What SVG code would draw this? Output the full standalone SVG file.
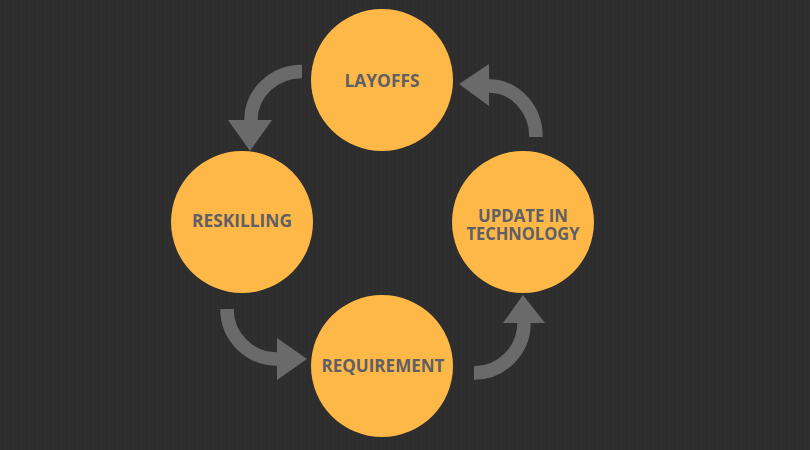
<svg xmlns="http://www.w3.org/2000/svg" width="810" height="450" viewBox="0 0 810 450">
<defs>
<pattern id="grain" width="4" height="450" patternUnits="userSpaceOnUse">
<rect x="0" y="0" width="2" height="450" fill="#323232"/>
<rect x="2" y="0" width="2" height="450" fill="#2a2a2a"/>
</pattern>
<style>
.node{fill:#fdb847;}
.lbl{font-family:"Open Sans","Liberation Sans",sans-serif;font-weight:700;font-size:18.5px;fill:#5f5f66;text-anchor:middle;}
.band{fill:none;stroke:#6a6a6a;stroke-width:13.5;}
.head{fill:#6a6a6a;}
</style>
</defs>
<rect width="810" height="450" fill="#2e2e2e"/>
<rect width="810" height="450" fill="url(#grain)" opacity="0.3"/>
<g id="connectors">
<path class="band" d="M302,71.5 A51,48.5 0 0 0 251,120"/>
<polygon class="head" points="228,120 272,120 250,151"/>
<path class="band" d="M489,86 A47,51 0 0 1 536,137"/>
<polygon class="head" points="489,64 489,106 459,84"/>
<path class="band" d="M227,309 A50,50 0 0 0 277,359"/>
<polygon class="head" points="277,338 277,380 307,359"/>
<path class="band" d="M474,373 A50,50 0 0 0 524,323"/>
<polygon class="head" points="503,323 545,323 523,295"/>
</g>
<g id="layoffs">
<circle class="node" cx="382" cy="80" r="71"/>
<text class="lbl" x="382" y="87" textLength="75" lengthAdjust="spacingAndGlyphs">LAYOFFS</text>
</g>
<g id="reskilling">
<circle class="node" cx="242" cy="222" r="71"/>
<text class="lbl" x="242" y="227" textLength="100" lengthAdjust="spacingAndGlyphs">RESKILLING</text>
</g>
<g id="update">
<circle class="node" cx="523" cy="222" r="71"/>
<text class="lbl"><tspan x="523" y="222" textLength="90" lengthAdjust="spacingAndGlyphs">UPDATE IN</tspan><tspan x="523" y="240" textLength="113" lengthAdjust="spacingAndGlyphs">TECHNOLOGY</tspan></text>
</g>
<g id="requirement">
<circle class="node" cx="382" cy="366" r="71"/>
<text class="lbl" x="383" y="372" textLength="123" lengthAdjust="spacingAndGlyphs">REQUIREMENT</text>
</g>
</svg>
